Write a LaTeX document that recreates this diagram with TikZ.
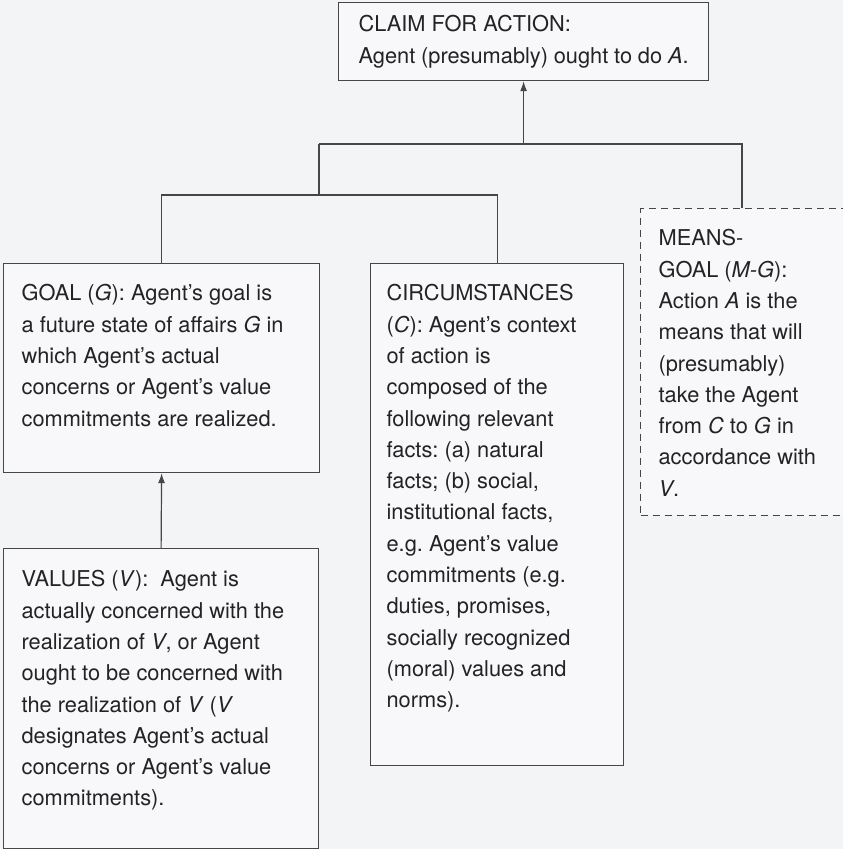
\documentclass[tikz,border=0pt]{standalone}
\usepackage{fontspec}
\setmainfont{TeX Gyre Heros}
\usetikzlibrary{arrows.meta}
\definecolor{paper}{RGB}{243,244,246}
\definecolor{boxfill}{RGB}{248,248,250}
\definecolor{ink}{RGB}{35,35,38}
\definecolor{rule}{RGB}{70,70,74}
\frenchspacing
\newcommand{\boxpar}[3]{\begin{minipage}[t][#2][t]{#1}\raggedright\frenchspacing\fontsize{21.8pt}{31.3pt}\selectfont #3\end{minipage}}
\tikzset{
  x=1pt, y=-1pt,
  boxnode/.style={draw=rule, line width=1.2pt, fill=boxfill, text=ink, inner xsep=18pt, inner ysep=21pt, anchor=north west, rectangle},
  dashbox/.style={boxnode, dash pattern=on 7pt off 5pt},
  conn/.style={draw=rule, line width=1.2pt},
  arr/.style={conn, -{Latex[length=10pt,width=7pt]}}
}
\begin{document}
\begin{tikzpicture}
\useasboundingbox (0,0) rectangle (843,849);
\clip (0,0) rectangle (843,849);
\fill[paper] (0,0) rectangle (843,849);

\node[boxnode, inner ysep=13pt, inner xsep=20pt] (claim) at (338,2)
  {\boxpar{330pt}{52pt}{CLAIM FOR ACTION:\\ Agent (presumably) ought to do \textit{A}.}};

\node[boxnode] (goal) at (3,263)
  {\boxpar{280pt}{167pt}{GOAL (\textit{G}): Agent’s goal is\\ a future state of affairs \textit{G} in\\ which Agent’s actual\\ concerns or Agent’s value\\ commitments are realized.}};

\node[boxnode, inner xsep=16pt] (circ) at (370,263)
  {\boxpar{221pt}{460pt}{CIRCUMSTANCES\\ (\textit{C}): Agent’s context\\ of action is\\ composed of the\\ following relevant\\ facts: (a) natural\\ facts; (b) social,\\ institutional facts,\\ e.g. Agent’s value\\ commitments (e.g.\\ duties, promises,\\ socially recognized\\ (moral) values and\\ norms).}};

\node[dashbox] (means) at (640,208)
  {\boxpar{184pt}{265pt}{MEANS-\\ GOAL (\textit{M-G}):\\ Action \textit{A} is the\\ means that will\\ (presumably)\\ take the Agent\\ from \textit{C} to \textit{G} in\\ accordance with\\ \textit{V}.}};

\node[boxnode, inner ysep=22pt] (values) at (3,548)
  {\boxpar{279pt}{256pt}{VALUES (\textit{V}):\ \ Agent is\\ actually concerned with the\\ realization of \textit{V}, or Agent\\ ought to be concerned with\\ the realization of \textit{V} (\textit{V}\\ designates Agent’s actual\\ concerns or Agent’s value\\ commitments).}};

\coordinate (ubl) at (319,144);
\coordinate (ubr) at (742,144);
\coordinate (lbus) at (161,195);

\draw[conn] (ubl) -- (ubr) -- (ubr |- means.north);
\draw[conn] (ubl) -- (ubl |- lbus);
\draw[conn] (goal.north) -- (goal.north |- lbus) -| (circ.north);
\draw[arr] (claim.south |- ubl) -- (claim.south);
\draw[arr] (values.north) -- (goal.south);
\end{tikzpicture}
\end{document}
